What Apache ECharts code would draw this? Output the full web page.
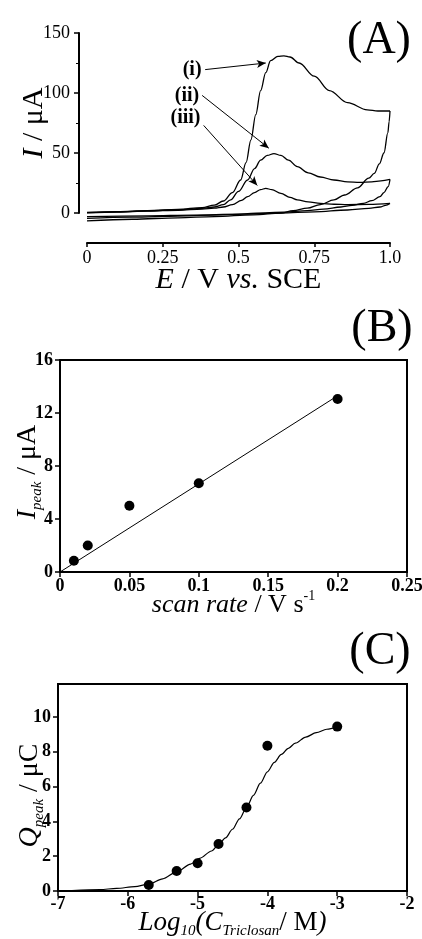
<!DOCTYPE html>
<html>
<head>
<meta charset="utf-8">
<script src="https://cdn.jsdelivr.net/npm/echarts@6/dist/echarts.min.js"></script>
<style>
  html, body { margin: 0; padding: 0; background: #fff; }
  #chart { width: 422px; height: 939px; }
</style>
</head>
<body>
<div id="chart"></div>
<script>
// ---------- (A) cyclic voltammograms: potential E (V vs. SCE) and current I (uA) ----------
const cvI_fwdE = [0, 0.1, 0.2, 0.3, 0.38, 0.42, 0.45, 0.48, 0.507, 0.525, 0.541, 0.557, 0.573, 0.59, 0.606, 0.63, 0.65, 0.67, 0.7, 0.75, 0.8, 0.86, 0.925, 0.96, 1.0];
const cvI_fwdI = [0.5, 1.2, 2, 3, 4.5, 6.5, 10, 17, 27.5, 42, 61, 82, 102, 117, 127, 130.5, 131, 130, 125, 114, 102, 92, 86, 85, 85];
const cvI_revE = [1.0, 0.997, 0.993, 0.98, 0.965, 0.948, 0.93, 0.893, 0.85, 0.815, 0.77, 0.727, 0.68, 0.64, 0.55, 0.42, 0.3, 0.15, 0];
const cvI_revI = [85, 76, 67, 50, 41, 33, 29, 21, 15, 11, 7, 4, 2, 0, -1.5, -3, -4, -5.2, -6.5];

const cvII_fwdE = [0, 0.1, 0.2, 0.3, 0.38, 0.42, 0.45, 0.474, 0.5, 0.53, 0.553, 0.573, 0.595, 0.617, 0.64, 0.665, 0.694, 0.73, 0.77, 0.815, 0.86, 0.9, 0.94, 0.97, 1.0];
const cvII_fwdI = [0.3, 1, 1.8, 2.6, 3.8, 5, 7, 11, 18, 27.5, 37, 44, 48, 49.5, 48, 44, 38.6, 33.5, 30, 27.5, 26, 25.5, 26, 26.8, 28];
const cvII_revE = [1.0, 0.994, 0.98, 0.967, 0.94, 0.912, 0.875, 0.838, 0.78, 0.727, 0.65, 0.59, 0.45, 0.3, 0.15, 0];
const cvII_revI = [28, 22, 17, 13.6, 10.3, 8, 6.3, 5, 3.3, 2, 0.8, 0, -1.5, -2.5, -3.5, -4.5];

const cvIII_fwdE = [0, 0.1, 0.2, 0.3, 0.38, 0.42, 0.45, 0.48, 0.51, 0.53, 0.553, 0.573, 0.59, 0.61, 0.64, 0.67, 0.694, 0.73, 0.77, 0.815, 0.86, 0.93, 1.0];
const cvIII_fwdI = [0.2, 0.8, 1.5, 2.3, 3.3, 4, 5, 7, 10.5, 13.6, 17, 19.5, 20.5, 19.5, 16.4, 13, 11, 9.3, 8, 7.3, 7, 7.2, 8];
const cvIII_revE = [1.0, 0.985, 0.967, 0.93, 0.86, 0.75, 0.64, 0.5, 0.35, 0.2, 0];
const cvIII_revI = [8, 6.3, 5, 3.8, 2.5, 1, 0, -1, -1.8, -2.4, -3];

// curve labels and their arrows (E, I)
const cvLabels = ['(i)', '(ii)', '(iii)'];
const cvLabelPos = [[0.347, 119], [0.33, 98], [0.325, 79]];
const arrowFrom = [[0.39, 119.5], [0.38, 98], [0.385, 73]];
const arrowTo = [[0.59, 125], [0.6, 54], [0.562, 23]];

const axA_x = { min: 0, max: 1, step: 0.25 };
const axA_y = { min: 0, max: 150, step: 50 };

// ---------- (B) peak current vs. scan rate ----------
const scanRate = [0.01, 0.02, 0.05, 0.1, 0.2];
const iPeak = [0.85, 2.0, 5.0, 6.7, 13.05];
const fitB_x = [0, 0.2];
const fitB_y = [0, 13.3];
const axB_x = { min: 0, max: 0.25, step: 0.05 };
const axB_y = { min: 0, max: 16, step: 4 };

// ---------- (C) peak charge vs. log concentration ----------
const logC = [-5.7, -5.3, -5.0, -4.7, -4.3, -4.0, -3.0];
const qPeak = [0.35, 1.15, 1.6, 2.7, 4.8, 8.35, 9.45];
const fitC_x = [-6.8, -6.4, -6.16, -5.9, -5.7, -5.5, -5.3, -5.1, -4.97, -4.8, -4.7, -4.6, -4.5, -4.4, -4.3, -4.2, -4.1, -4.0, -3.9, -3.8, -3.7, -3.6, -3.45, -3.3, -3.15, -3.0];
const fitC_y = [0.02, 0.08, 0.15, 0.25, 0.4, 0.7, 1.1, 1.55, 1.88, 2.3, 2.65, 3.05, 3.55, 4.15, 4.8, 5.5, 6.2, 6.85, 7.4, 7.85, 8.2, 8.5, 8.85, 9.1, 9.3, 9.45];
const axC_x = { min: -7, max: -2, step: 1 };
const axC_y = { min: 0, max: 11.9, step: 2 };

const panelLetters = ['(A)', '(B)', '(C)'];

// ---------- helpers ----------
const FONT = '"Liberation Serif", "Times New Roman", serif';
const BLACK = '#000';
const pairs = (xs, ys) => xs.map((x, k) => [x, ys[k]]);

function rich(size) {
  const small = Math.round(size * 0.55);
  return {
    i: { fontFamily: FONT, fontSize: size, fontStyle: 'italic', color: BLACK, lineHeight: size + 6 },
    n: { fontFamily: FONT, fontSize: size, color: BLACK, lineHeight: size + 6 },
    sub: { fontFamily: FONT, fontSize: small, fontStyle: 'italic', color: BLACK, lineHeight: small, verticalAlign: 'bottom' },
    sup: { fontFamily: FONT, fontSize: small, color: BLACK, lineHeight: small, verticalAlign: 'top' }
  };
}

function nameStyle(size, padding) {
  const s = { fontFamily: FONT, fontSize: size, color: BLACK, lineHeight: size + 6, rich: rich(size) };
  if (padding) s.padding = padding;
  return s;
}

function valueAxis(gi, ax, extra) {
  return Object.assign({
    gridIndex: gi,
    type: 'value',
    min: ax.min,
    max: ax.max,
    interval: ax.step,
    nameMoveOverlap: false,
    splitLine: { show: false },
    axisLine: { show: true, onZero: false, lineStyle: { color: BLACK, width: 2 } },
    axisTick: { show: true, inside: false, length: 5, lineStyle: { color: BLACK, width: 1.5 } },
    axisLabel: { color: BLACK, fontFamily: FONT, fontSize: 18 }
  }, extra);
}

const cvLine = (xs, ys) => ({
  type: 'line',
  xAxisIndex: 0, yAxisIndex: 0,
  data: pairs(xs, ys),
  showSymbol: false,
  smooth: 0.35,
  smoothMonotone: 'x',
  clip: false,
  lineStyle: { color: BLACK, width: 1.3 },
  silent: true,
  z: 3
});

const chart = echarts.init(document.getElementById('chart'), null, { renderer: 'canvas' });

const cvSeries = [
  cvLine(cvI_fwdE, cvI_fwdI), cvLine(cvI_revE, cvI_revI),
  cvLine(cvII_fwdE, cvII_fwdI), cvLine(cvII_revE, cvII_revI),
  cvLine(cvIII_fwdE, cvIII_fwdI), cvLine(cvIII_revE, cvIII_revI)
];

// arrows pointing from the labels to the curves
cvSeries[0].markLine = {
  silent: true,
  symbol: ['none', 'arrow'],
  symbolSize: [6, 9],
  label: { show: false },
  lineStyle: { color: BLACK, width: 1, type: 'solid' },
  data: arrowFrom.map((f, k) => [{ coord: f }, { coord: arrowTo[k] }])
};

const gridBase = { outerBoundsMode: 'none', containLabel: false };

const option = {
  animation: false,
  backgroundColor: '#fff',
  grid: [
    Object.assign({ left: 87, top: 33, width: 303, height: 180 }, gridBase),
    Object.assign({ left: 60, top: 360, width: 347, height: 212, show: true, borderColor: BLACK, borderWidth: 2, backgroundColor: 'transparent' }, gridBase),
    Object.assign({ left: 58, top: 684, width: 349, height: 207, show: true, borderColor: BLACK, borderWidth: 2, backgroundColor: 'transparent' }, gridBase)
  ],
  xAxis: [
    valueAxis(0, axA_x, {
      offset: 30,
      axisLabel: { color: BLACK, fontFamily: FONT, fontSize: 18, margin: 6, formatter: v => (v === 1 ? '1.0' : String(v)) },
      axisTick: { show: true, length: 4, lineStyle: { color: BLACK, width: 1.5 } },
      name: '{i|E} / V {i|vs.} SCE',
      nameLocation: 'middle',
      nameGap: 19,
      nameTextStyle: nameStyle(30)
    }),
    valueAxis(1, axB_x, {
      axisLabel: { color: BLACK, fontFamily: FONT, fontSize: 18, fontWeight: 'bold', margin: 5 },
      name: '{i|scan rate} / V s{sup|-1}',
      nameLocation: 'middle',
      nameGap: 17,
      nameTextStyle: nameStyle(26)
    }),
    valueAxis(2, axC_x, {
      axisLabel: { color: BLACK, fontFamily: FONT, fontSize: 18, fontWeight: 'bold', margin: 4 },
      name: '{i|Log}{sub|10}{i|(C}{sub|Triclosan}{n|/ M}{i|)}',
      nameLocation: 'middle',
      nameGap: 15,
      nameTextStyle: nameStyle(27)
    })
  ],
  yAxis: [
    valueAxis(0, axA_y, {
      offset: 8,
      axisLabel: { color: BLACK, fontFamily: FONT, fontSize: 18, margin: 9 },
      minorTick: { show: true, splitNumber: 2, length: 3, lineStyle: { color: BLACK, width: 1 } },
      name: '{i|I} / μA',
      nameLocation: 'middle',
      nameRotate: 90,
      nameGap: 27,
      nameTextStyle: nameStyle(30)
    }),
    valueAxis(1, axB_y, {
      axisLabel: { color: BLACK, fontFamily: FONT, fontSize: 18, fontWeight: 'bold', margin: 7 },
      name: '{i|I}{sub|peak} / μA',
      nameLocation: 'middle',
      nameRotate: 90,
      nameGap: 15,
      nameTextStyle: nameStyle(28, [0, 12, 0, 0])
    }),
    valueAxis(2, axC_y, {
      axisLabel: { color: BLACK, fontFamily: FONT, fontSize: 18, fontWeight: 'bold', margin: 7, showMaxLabel: false },
      name: '{i|Q}{sub|peak} / μC',
      nameLocation: 'middle',
      nameRotate: 90,
      nameGap: 11,
      nameTextStyle: nameStyle(28, [0, 16, 0, 0])
    })
  ],
  series: cvSeries.concat([
    {
      type: 'scatter',
      xAxisIndex: 0, yAxisIndex: 0,
      data: cvLabels.map((t, k) => ({ name: t, value: cvLabelPos[k] })),
      symbolSize: 1,
      itemStyle: { color: 'transparent', opacity: 1 },
      silent: true,
      label: { show: true, position: 'inside', formatter: '{b}', color: BLACK, opacity: 1, textBorderWidth: 0, fontFamily: FONT, fontSize: 20, fontWeight: 'bold' },
      z: 5
    },
    {
      type: 'line',
      xAxisIndex: 1, yAxisIndex: 1,
      data: pairs(fitB_x, fitB_y),
      showSymbol: false,
      lineStyle: { color: BLACK, width: 1 },
      silent: true,
      z: 3
    },
    {
      type: 'scatter',
      xAxisIndex: 1, yAxisIndex: 1,
      data: pairs(scanRate, iPeak),
      symbolSize: 10,
      itemStyle: { color: BLACK, opacity: 1 },
      silent: true,
      z: 4
    },
    {
      type: 'line',
      xAxisIndex: 2, yAxisIndex: 2,
      data: pairs(fitC_x, fitC_y),
      showSymbol: false,
      smooth: 0.3,
      smoothMonotone: 'x',
      lineStyle: { color: BLACK, width: 1.2 },
      silent: true,
      z: 3
    },
    {
      type: 'scatter',
      xAxisIndex: 2, yAxisIndex: 2,
      data: pairs(logC, qPeak),
      symbolSize: 10,
      itemStyle: { color: BLACK, opacity: 1 },
      silent: true,
      z: 4
    }
  ]),
  graphic: [
    { type: 'text', x: 379, y: 41, style: { text: panelLetters[0], fontFamily: FONT, fontSize: 46, fill: BLACK, align: 'center', verticalAlign: 'middle' } },
    { type: 'text', x: 382, y: 329, style: { text: panelLetters[1], fontFamily: FONT, fontSize: 46, fill: BLACK, align: 'center', verticalAlign: 'middle' } },
    { type: 'text', x: 380, y: 652, style: { text: panelLetters[2], fontFamily: FONT, fontSize: 46, fill: BLACK, align: 'center', verticalAlign: 'middle' } }
  ]
};

chart.setOption(option);
</script>
</body>
</html>
